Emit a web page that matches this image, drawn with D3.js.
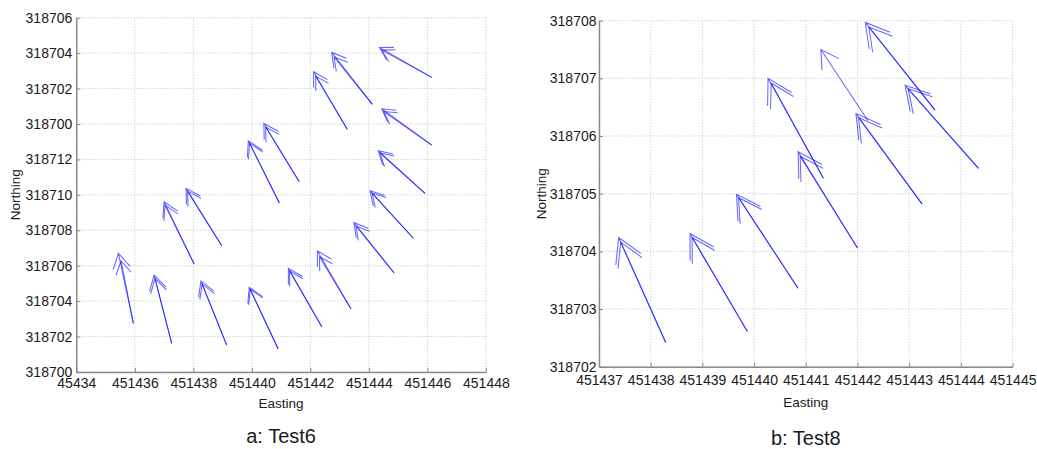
<!DOCTYPE html>
<html>
<head>
<meta charset="utf-8">
<script src="https://cdn.jsdelivr.net/npm/d3@7"></script>
<style>
  body { margin: 0; background: #fff; }
  svg { display: block; font-family: "Liberation Sans", Arial, Helvetica, sans-serif; }
</style>
</head>
<body>
<svg id="chart" width="1037" height="449"></svg>
<script>
// ---- Test6: arrow tails (easting, northing) and tips (one or more per tail) ----
const test6TailE = [451446.15, 451444.12, 451443.26, 451446.15, 451445.92, 451445.52,
                    451444.86, 451443.39, 451442.39, 451440.90, 451439.14, 451437.26,
                    451435.95, 451438.03, 451438.97, 451440.94, 451441.62];
const test6TailN = [318716.63, 318715.11, 318713.70, 318712.81, 318710.08, 318707.55,
                    318705.60, 318703.56, 318702.56, 318701.30, 318701.52, 318701.62,
                    318702.75, 318706.09, 318707.13, 318709.54, 318710.74];
const test6TipE = [[451444.36, 451444.44], [451442.73, 451442.81], [451442.11, 451442.18],
                   [451444.44, 451444.51], [451444.32, 451444.38], [451444.04, 451444.11],
                   [451443.49, 451443.56], [451442.24, 451442.31], [451441.25, 451441.29],
                   [451439.91, 451439.94], [451438.26, 451438.30], [451436.66, 451436.69],
                   [451435.44, 451435.53], [451437.00, 451437.03], [451437.75, 451437.80],
                   [451439.88, 451439.92], [451440.41, 451440.47]];
const test6TipN = [[318718.32, 318718.17], [318718.04, 318717.78], [318716.95, 318716.70],
                   [318714.86, 318714.70], [318712.49, 318712.36], [318710.23, 318710.10],
                   [318708.43, 318708.24], [318706.83, 318706.51], [318705.85, 318705.70],
                   [318704.78, 318704.68], [318705.14, 318704.97], [318705.47, 318705.29],
                   [318706.70, 318706.28], [318709.61, 318709.42], [318710.37, 318710.21],
                   [318713.05, 318712.92], [318714.03, 318713.83]];
const test6EastTicks = [451434, 451436, 451438, 451440, 451442, 451444, 451446, 451448];
const test6EastLabels = ["45434", "451436", "451438", "451440", "451442", "451444", "451446", "451448"];
const test6NorthTicks = [318700, 318702, 318704, 318706, 318708, 318710, 318712, 318714, 318716, 318718, 318720];
const test6NorthLabels = ["318700", "318702", "318704", "318706", "318708", "318710",
                          "318712", "318700", "318702", "318704", "318706"];

// ---- Test8 ----
const test8TailE = [451443.50, 451442.20, 451441.34, 451443.25, 451442.00, 451444.34,
                    451438.29, 451439.87, 451440.85];
const test8TailN = [318706.45, 318706.27, 318705.27, 318704.82, 318704.06, 318705.44,
                    318702.42, 318702.61, 318703.36];
const test8TipE = [[451442.15, 451442.22], [451441.29], [451440.27, 451440.33],
                   [451441.97, 451442.02], [451440.85, 451440.89], [451442.92, 451442.98],
                   [451437.38, 451437.42], [451438.76, 451438.80], [451439.66, 451439.70]];
const test8TipN = [[318707.97, 318707.89], [318707.50], [318707.00, 318706.92],
                   [318706.39, 318706.32], [318705.73, 318705.65], [318706.88, 318706.82],
                   [318704.24, 318704.16], [318704.31, 318704.24], [318704.99, 318704.93]];
const test8EastTicks = [451437, 451438, 451439, 451440, 451441, 451442, 451443, 451444, 451445];
const test8EastLabels = test8EastTicks.map(String);
const test8NorthTicks = [318702, 318703, 318704, 318705, 318706, 318707, 318708];
const test8NorthLabels = test8NorthTicks.map(String);

const svg = d3.select("#chart");

function drawPanel(p) {
  const x = d3.scaleLinear().domain(d3.extent(p.eastTicks)).range([p.left, p.right]);
  const y = d3.scaleLinear().domain(d3.extent(p.northTicks)).range([p.bottom, p.top]);
  const g = svg.append("g");

  // dotted grid
  g.append("g").selectAll("line").data(p.eastTicks).join("line")
    .attr("x1", d => x(d)).attr("x2", d => x(d))
    .attr("y1", p.top).attr("y2", p.bottom)
    .attr("stroke", "#d4d4d4").attr("stroke-width", 1).attr("stroke-dasharray", "1.5,1.5");
  g.append("g").selectAll("line").data(p.northTicks).join("line")
    .attr("y1", d => y(d)).attr("y2", d => y(d))
    .attr("x1", p.left).attr("x2", p.right)
    .attr("stroke", "#d4d4d4").attr("stroke-width", 1).attr("stroke-dasharray", "1.5,1.5");

  // axes: ticks point inward, labels set from the label arrays
  const xAxis = d3.axisBottom(x).tickValues(p.eastTicks)
    .tickFormat((d, i) => p.eastLabels[i]).tickSizeInner(-4).tickSizeOuter(0).tickPadding(p.xPad);
  const yAxis = d3.axisLeft(y).tickValues(p.northTicks)
    .tickFormat((d, i) => p.northLabels[i]).tickSizeInner(-4).tickSizeOuter(0).tickPadding(p.yPad);

  const gx = g.append("g").attr("transform", `translate(0,${p.bottom})`).call(xAxis);
  const gy = g.append("g").attr("transform", `translate(${p.left},0)`).call(yAxis);
  [gx, gy].forEach(a => {
    a.select(".domain").attr("stroke", "#8a8a8a").attr("stroke-width", 1.5);
    a.selectAll(".tick line").attr("stroke", "#8a8a8a");
    a.selectAll(".tick text").attr("fill", "#1a1a1a").style("font-size", "14px")
      .style("font-family", '"Liberation Sans", Arial, sans-serif');
  });

  // quiver arrows
  const arrows = [];
  p.tailE.forEach((te, i) => {
    p.tipE[i].forEach((he, j) => {
      arrows.push({ tx: x(te), ty: y(p.tailN[i]), hx: x(he), hy: y(p.tipN[i][j]) });
    });
  });
  const headRatio = 0.24, headAngle = 30 * Math.PI / 180;
  const arrowPath = a => {
    const dx = a.tx - a.hx, dy = a.ty - a.hy;
    const L = Math.hypot(dx, dy), ux = dx / L, uy = dy / L, h = L * headRatio;
    const c = Math.cos(headAngle), s = Math.sin(headAngle);
    const b1 = [a.hx + h * (ux * c - uy * s), a.hy + h * (ux * s + uy * c)];
    const b2 = [a.hx + h * (ux * c + uy * s), a.hy + h * (-ux * s + uy * c)];
    return `M${a.tx},${a.ty}L${a.hx},${a.hy}M${b1[0]},${b1[1]}L${a.hx},${a.hy}L${b2[0]},${b2[1]}`;
  };
  g.append("g").selectAll("path").data(arrows).join("path")
    .attr("d", arrowPath)
    .attr("fill", "none").attr("stroke", "#0000ff").attr("stroke-opacity", 0.6)
    .attr("stroke-width", 1.05).attr("stroke-linejoin", "miter");

  // axis titles and panel caption
  g.append("text").attr("x", (p.left + p.right) / 2).attr("y", p.eastingY)
    .attr("text-anchor", "middle").style("font-size", "13.5px").attr("fill", "#1a1a1a").text("Easting");
  g.append("text")
    .attr("transform", `translate(${p.northingX},${(p.top + p.bottom) / 2}) rotate(-90)`)
    .attr("text-anchor", "middle").style("font-size", "13.5px").attr("fill", "#1a1a1a").text("Northing");
  g.append("text").attr("x", (p.left + p.right) / 2).attr("y", p.captionY)
    .attr("text-anchor", "middle").style("font-size", "20px").attr("fill", "#1a1a1a").text(p.caption);
}

drawPanel({
  left: 76.3, right: 485.9, top: 17.7, bottom: 372, xPad: 6, yPad: 4,
  eastTicks: test6EastTicks, eastLabels: test6EastLabels,
  northTicks: test6NorthTicks, northLabels: test6NorthLabels,
  tailE: test6TailE, tailN: test6TailN, tipE: test6TipE, tipN: test6TipN,
  eastingY: 408, northingX: 20, captionY: 443, caption: "a: Test6"
});
drawPanel({
  left: 599, right: 1012.6, top: 20.7, bottom: 366.7, xPad: 8, yPad: 2.5,
  eastTicks: test8EastTicks, eastLabels: test8EastLabels,
  northTicks: test8NorthTicks, northLabels: test8NorthLabels,
  tailE: test8TailE, tailN: test8TailN, tipE: test8TipE, tipN: test8TipN,
  eastingY: 406.5, northingX: 546, captionY: 445, caption: "b: Test8"
});
</script>
</body>
</html>
